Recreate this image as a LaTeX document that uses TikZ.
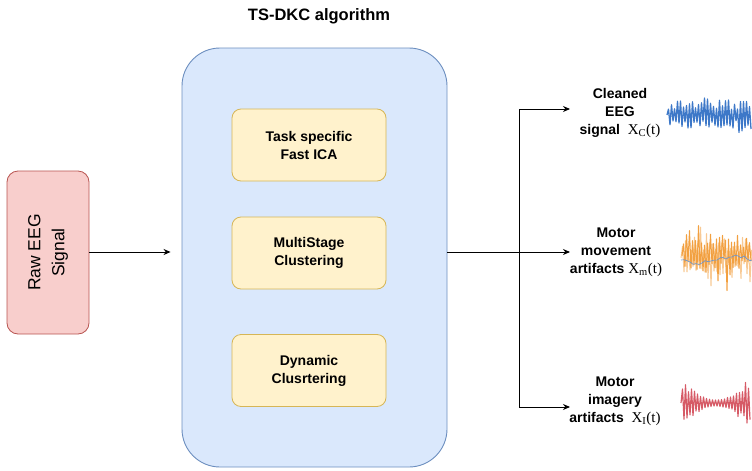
\documentclass[tikz,border=0pt]{standalone}
\usepackage{fontspec}
\setmainfont{Liberation Sans}
\newfontfamily\sx{Liberation Serif}
\usetikzlibrary{arrows.meta}
\definecolor{bluefill}{HTML}{DAE8FC}
\definecolor{bluedraw}{HTML}{6C8EBF}
\definecolor{yelfill}{HTML}{FFF2CC}
\definecolor{yeldraw}{HTML}{D6B656}
\definecolor{redfill}{HTML}{F8CECC}
\definecolor{reddraw}{HTML}{B85450}
\definecolor{wblue}{HTML}{3D78C8}
\definecolor{worange}{HTML}{F2A040}
\definecolor{wred}{HTML}{D65A66}
\newcommand{\sigx}[1]{{\sx\mdseries\fontsize{15}{18}\selectfont X\textsubscript{#1}(t)}}
\tikzset{
  bigbox/.style={draw=bluedraw, fill=bluefill, line width=0.9pt, rounded corners=38pt, minimum width=265pt, minimum height=419pt},
  stagebox/.style={draw=yeldraw, fill=yelfill, line width=0.8pt, rounded corners=9pt, minimum width=154pt, minimum height=72pt, align=center, font=\fontsize{14}{18}\selectfont\bfseries},
  rawbox/.style={draw=reddraw, fill=redfill, line width=0.8pt, rounded corners=11pt, minimum width=82pt, minimum height=163pt},
  outlabel/.style={align=center, font=\fontsize{14}{18}\selectfont\bfseries},
  conn/.style={line width=0.9pt, draw=black},
  arr/.style={conn, -{Stealth[length=7pt,width=6pt]}},
}
\begin{document}
\begin{tikzpicture}[x=1pt, y=-1pt]
\useasboundingbox (0,0) rectangle (752,471);
\node[font=\fontsize{16.5}{20}\selectfont\bfseries] (title) at (319,16) {TS-DKC algorithm};
\node[bigbox] (alg) at (314.5,257.5) {};
\node[stagebox] (s1) at (309,145) {Task specific\\Fast ICA};
\node[stagebox] (s2) at (309,253) {MultiStage\\Clustering};
\node[stagebox] (s3) at (309,370.5) {Dynamic\\Clusrtering};
\node[rawbox] (raw) at (48,252.5) {};
\node[rotate=90, align=center, font=\fontsize{17.5}{24}\selectfont] (rawtext) at (raw.center) {Raw EEG\\Signal};
% outputs
\coordinate (split) at (519,252);
\coordinate (top) at (519,109);
\coordinate (bot) at (519,407);
\coordinate (t1) at (570,109);
\coordinate (t2) at (570,252);
\coordinate (t3) at (570,407);
\draw[arr, shorten >=11pt] (raw.east |- split) -- (alg.west |- split);
\draw[conn] (alg.east |- split) -- (split);
\draw[conn] (top) -- (bot);
\draw[arr] (top) -- (t1);
\draw[arr] (split) -- (t2);
\draw[arr] (bot) -- (t3);
\node[outlabel] (l1) at (620,113) {Cleaned\\EEG\\signal\ \ \sigx{C}};
\node[outlabel] (l2) at (616,252) {Motor\\movement\\artifacts \sigx{m}};
\node[outlabel] (l3) at (615,401) {Motor\\imagery\\artifacts\ \ \sigx{I}};
% waveforms
\pgfmathsetseed{11}
\draw[wblue, line width=1.3pt, line join=round]
  (667,115) \foreach \i in {1,...,56} { -- ({667+1.5*\i}, {115 + cos(180*\i)*(5 + 9*rnd + 12*rnd*rnd*rnd)}) };
\pgfmathsetseed{5}
\draw[worange!70, opacity=0.8, line width=1pt, line join=round]
  (681,258) \foreach \i in {1,...,47} { -- ({681+1.5*\i}, {258 + cos(180*\i)*(5 + 12*rnd + 28*rnd*rnd*rnd)}) };
\pgfmathsetseed{17}
\draw[worange, line width=1pt, line join=round]
  (682,256) \foreach \i in {1,...,46} { -- ({682+1.5*\i}, {254 + cos(180*\i)*(4 + 11*rnd + 32*rnd*rnd*rnd)}) };
\pgfmathsetseed{23}
\draw[wblue!80, line width=0.6pt]
  (681,260) \foreach \i in {1,...,24} { -- ({681+3*\i}, {260 + 3*sin(15*\i) + 2*rand}) };
\pgfmathsetseed{31}
\draw[wred, line width=1.2pt, line join=round]
  (681,403) \foreach \i in {1,...,46} { -- ({681+1.5*\i}, {403 + cos(180*\i)*(3 + (12 + 14*rnd)*((\i-23)/23)*((\i-23)/23))}) };
\end{tikzpicture}
\end{document}
